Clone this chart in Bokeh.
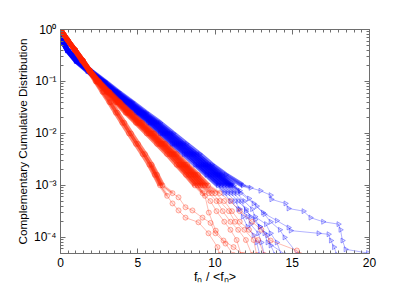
import math
from bokeh.plotting import figure
from bokeh.models import (Range1d, FixedTicker, LinearAxis, LogAxis,
                          CustomJSTickFormatter)
from bokeh.embed import file_html
from bokeh.resources import INLINE

# ---------------- data ----------------
# common CCDF levels for the dense part of every curve
LEVELS = [1.0, 0.63, 0.4, 0.25, 0.16, 0.1, 0.063, 0.04, 0.025, 0.016,
          0.01, 0.0063, 0.004, 0.0025, 0.0016, 0.001]

# blue curves: x position at each level, then the sparse tail
b1_head = [0, 0.1, 0.48, 1.12, 1.98, 2.88, 3.75, 4.65, 5.55, 6.45, 7.3, 8.15, 9.0, 9.8, 10.7, 11.8]
b1_tail_x = [12.3, 12.94, 13.6, 13.65, 14.56, 14.76, 15.73, 16.18, 17.0, 17.99, 18.12, 18.25, 18.45, 19.9]
b1_tail_y = [9.0e-4, 7.9e-4, 6.5e-4, 5.4e-4, 4.5e-4, 3.6e-4, 3.2e-4, 2.4e-4, 2.0e-4, 1.8e-4, 1.4e-4, 8.7e-5, 5.9e-5, 5.0e-5]

b2_head = [0, 0.1, 0.47, 1.1, 1.94, 2.82, 3.67, 4.55, 5.43, 6.3, 7.13, 7.95, 8.8, 9.6, 10.4, 11.2]
b2_tail_x = [11.65, 12.5, 13.1, 14.0, 14.76, 14.9, 16.7, 17.35, 17.5, 17.7, 17.9]
b2_tail_y = [7.1e-4, 4.5e-4, 3.0e-4, 2.1e-4, 1.55e-4, 1.35e-4, 1.2e-4, 1.15e-4, 8.7e-5, 6.5e-5, 4.6e-5]

b3_head = [0, 0.1, 0.46, 1.08, 1.9, 2.77, 3.6, 4.46, 5.32, 6.18, 7.0, 7.82, 8.65, 9.45, 10.25, 11.05]
b3_tail_x = [11.6, 12.2, 12.7, 13.2, 13.6, 14.2, 14.5, 15.4]
b3_tail_y = [7.9e-4, 5.6e-4, 4.0e-4, 2.8e-4, 2.0e-4, 1.4e-4, 1.0e-4, 4.6e-5]

b4_head = [0, 0.1, 0.45, 1.06, 1.87, 2.72, 3.53, 4.38, 5.24, 6.09, 6.9, 7.7, 8.55, 9.35, 10.15, 10.95]
b4_tail_x = [11.4, 11.9, 12.4, 12.6, 13.3, 13.6, 14.0, 14.3]
b4_tail_y = [7.1e-4, 5.0e-4, 3.5e-4, 2.5e-4, 1.8e-4, 1.2e-4, 8.0e-5, 4.6e-5]

b5_head = [0, 0.1, 0.45, 1.04, 1.84, 2.68, 3.47, 4.32, 5.16, 6.0, 6.8, 7.6, 8.43, 9.22, 10.0, 10.8]
b5_tail_x = [11.2, 11.7, 12.0, 12.6, 12.9, 13.4, 13.6, 13.9]
b5_tail_y = [7.1e-4, 5.0e-4, 3.2e-4, 2.2e-4, 1.6e-4, 1.1e-4, 7.0e-5, 4.6e-5]

b6_head = [0, 0.09, 0.44, 1.02, 1.8, 2.63, 3.41, 4.24, 5.07, 5.9, 6.68, 7.47, 8.28, 9.05, 9.82, 10.6]
b6_tail_x = [11.0, 11.5, 12.0, 12.3, 12.9, 13.2, 13.4, 14.6]
b6_tail_y = [7.1e-4, 5.0e-4, 3.5e-4, 2.5e-4, 1.6e-4, 1.2e-4, 8.0e-5, 4.6e-5]

b7_head = [0, 0.09, 0.43, 1.0, 1.77, 2.58, 3.35, 4.16, 4.98, 5.79, 6.56, 7.33, 8.13, 8.9, 9.65, 10.4]
b7_tail_x = [10.8, 11.3, 11.6, 12.1, 12.3, 12.8, 13.0, 13.2]
b7_tail_y = [7.1e-4, 5.0e-4, 3.5e-4, 2.5e-4, 1.8e-4, 1.2e-4, 8.0e-5, 4.6e-5]

b8_head = [0, 0.09, 0.42, 0.98, 1.73, 2.53, 3.28, 4.08, 4.88, 5.68, 6.44, 7.2, 7.98, 8.72, 9.45, 10.2]
b8_tail_x = [10.6, 11.0, 11.5, 11.8, 12.1, 12.5, 12.7, 12.9]
b8_tail_y = [7.1e-4, 5.0e-4, 3.5e-4, 2.5e-4, 1.6e-4, 1.1e-4, 8.0e-5, 4.6e-5]

# red curves (main group)
r1_head = [0, 0.45, 0.95, 1.45, 1.92, 2.5, 3.17, 3.85, 4.57, 5.3, 6.07, 6.8, 7.52, 8.2, 8.9, 9.55]
r1_tail_x = [10.3, 11.0, 11.6, 12.4, 13.0, 13.6, 15.3, 15.5]
r1_tail_y = [7.1e-4, 5.0e-4, 3.2e-4, 2.0e-4, 1.4e-4, 8.7e-5, 5.6e-5, 4.6e-5]

r2_head = [0, 0.45, 0.95, 1.45, 1.91, 2.47, 3.13, 3.8, 4.5, 5.22, 5.98, 6.7, 7.4, 8.07, 8.73, 9.35]
r2_tail_x = [10.0, 10.6, 11.1, 11.6, 12.2, 12.8, 13.2]
r2_tail_y = [7.1e-4, 5.0e-4, 3.2e-4, 2.0e-4, 1.4e-4, 8.9e-5, 4.6e-5]

r3_head = [0, 0.45, 0.95, 1.45, 1.9, 2.45, 3.1, 3.75, 4.45, 5.15, 5.9, 6.6, 7.3, 7.95, 8.6, 9.2]
r3_tail_x = [9.8, 10.3, 10.9, 11.3, 11.9, 12.5, 12.7]
r3_tail_y = [7.1e-4, 5.0e-4, 3.2e-4, 2.0e-4, 1.4e-4, 8.9e-5, 4.6e-5]

r4_head = [0, 0.45, 0.95, 1.44, 1.89, 2.43, 3.07, 3.7, 4.38, 5.07, 5.8, 6.5, 7.18, 7.82, 8.45, 9.05]
r4_tail_x = [9.6, 10.1, 10.5, 11.0, 11.5, 12.0, 12.4]
r4_tail_y = [7.1e-4, 5.0e-4, 3.2e-4, 2.0e-4, 1.4e-4, 8.9e-5, 4.6e-5]

r5_head = [0, 0.45, 0.95, 1.44, 1.88, 2.41, 3.03, 3.65, 4.31, 4.98, 5.7, 6.38, 7.05, 7.68, 8.3, 8.88]
r5_tail_x = [9.35, 9.6, 10.05, 10.55, 11.2, 11.85]
r5_tail_y = [6.3e-4, 3.0e-4, 1.35e-4, 8.7e-5, 6.5e-5, 4.6e-5]

r6_head = [0, 0.45, 0.94, 1.43, 1.87, 2.38, 2.98, 3.58, 4.22, 4.88, 5.58, 6.25, 6.9, 7.52, 8.12, 8.7]
r6_tail_x = [9.2, 9.7, 10.1, 10.6, 11.0, 11.4, 11.7]
r6_tail_y = [7.1e-4, 5.0e-4, 3.2e-4, 2.0e-4, 1.4e-4, 8.9e-5, 4.6e-5]

# red curves (steep group)
s1_head = [0, 0.45, 0.93, 1.4, 1.87, 2.33, 2.8, 3.25, 3.7, 4.13, 4.57, 5.02, 5.47, 5.9, 6.25, 6.6]
s1_tail_x = [7.25, 7.64, 8.09, 8.54, 9.19, 9.71, 10.03, 10.68, 11.2]
s1_tail_y = [7.1e-4, 5.9e-4, 3.8e-4, 3.3e-4, 2.4e-4, 1.9e-4, 1.2e-4, 7.6e-5, 4.6e-5]

s2_head = [0, 0.45, 0.92, 1.38, 1.84, 2.28, 2.72, 3.16, 3.58, 4.0, 4.43, 4.88, 5.32, 5.75, 6.1, 6.45]
s2_tail_x = [6.9, 7.25, 7.64, 8.09, 8.93, 9.58, 10.16, 10.3]
s2_tail_y = [6.3e-4, 4.5e-4, 3.3e-4, 2.4e-4, 1.95e-4, 1.2e-4, 6.5e-5, 4.6e-5]

X_TICKS = [0, 5, 10, 15, 20]
Y_TICKS = [1e-4, 1e-3, 1e-2, 1e-1, 1e0]

BLUE = "#0000ff"
RED = "#ff2200"
AXIS_GRAY = "#6e6e6e"
FONT = "Liberation Sans"

# ---------------- figure ----------------
p = figure(width=407, height=286, y_axis_type="log",
           x_range=Range1d(0, 20), y_range=Range1d(4.9e-5, 1.0),
           output_backend="svg", toolbar_location=None,
           min_border_left=60, min_border_right=38,
           min_border_top=29, min_border_bottom=33)
p.outline_line_color = None
p.xgrid.visible = False
p.ygrid.visible = False
p.background_fill_color = "white"
p.border_fill_color = "white"

x_minor = [i * 0.5 for i in range(41)]
y_minor = [k * 10.0 ** e for e in range(-5, 0) for k in range(1, 10)]
xt = FixedTicker(ticks=X_TICKS, minor_ticks=x_minor)
yt = FixedTicker(ticks=Y_TICKS, minor_ticks=y_minor)

sup_fmt = CustomJSTickFormatter(code="""
const e = Math.round(Math.log10(tick));
const m = {'-':'\u207b','0':'\u2070','1':'\u00b9','2':'\u00b2','3':'\u00b3','4':'\u2074',
           '5':'\u2075','6':'\u2076','7':'\u2077','8':'\u2078','9':'\u2079'};
return '10' + String(e).split('').map(c => m[c]).join('');
""")
blank = CustomJSTickFormatter(code="return '';")


def style_axis(ax):
    ax.axis_line_color = AXIS_GRAY
    ax.major_tick_line_color = AXIS_GRAY
    ax.minor_tick_line_color = AXIS_GRAY
    ax.major_tick_in = 5
    ax.major_tick_out = 0
    ax.minor_tick_in = 3
    ax.minor_tick_out = 0
    ax.major_label_text_font = FONT
    ax.major_label_text_font_size = "12px"
    ax.major_label_text_color = "black"
    ax.axis_label_text_font = FONT
    ax.axis_label_text_font_size = "11.7px"
    ax.axis_label_text_font_style = "normal"
    ax.axis_label_text_color = "black"


xa = p.xaxis[0]
xa.ticker = xt
xa.axis_label = "f\u2099 / <f\u2099>"
style_axis(xa)
xa.axis_label_text_font_size = "12.5px"
xa.axis_label_standoff = 0
xa.major_label_standoff = 4

ya = p.yaxis[0]
ya.ticker = yt
ya.formatter = sup_fmt
ya.axis_label = "Complementary Cumulative Distribution"
style_axis(ya)
ya.axis_label_standoff = 2
ya.major_label_standoff = 4

top = LinearAxis(ticker=xt, formatter=blank)
style_axis(top)
p.add_layout(top, "above")
right = LogAxis(ticker=yt, formatter=blank)
style_axis(right)
p.add_layout(right, "right")


def draw(head, tail_x, tail_y, color, marker, angle):
    xs = head + tail_x
    ys = LEVELS + tail_y
    # the dense part of each distribution reads as a solid band,
    # thinning out where the tail begins
    p.line(head, LEVELS, line_width=5, line_color=color, line_alpha=0.55)
    p.line(head[-3:] + tail_x[:1], LEVELS[-3:] + tail_y[:1],
           line_width=3, line_color=color, line_alpha=0.3)
    p.line(xs, ys, line_width=1, line_color=color, line_alpha=0.3)
    p.scatter(xs, ys, marker=marker, angle=angle, size=5,
              line_color=color, line_alpha=0.35,
              fill_color=color, fill_alpha=0.1)


blue_curves = [(b1_head, b1_tail_x, b1_tail_y), (b2_head, b2_tail_x, b2_tail_y),
               (b3_head, b3_tail_x, b3_tail_y), (b4_head, b4_tail_x, b4_tail_y),
               (b5_head, b5_tail_x, b5_tail_y), (b6_head, b6_tail_x, b6_tail_y),
               (b7_head, b7_tail_x, b7_tail_y), (b8_head, b8_tail_x, b8_tail_y)]
red_curves = [(r1_head, r1_tail_x, r1_tail_y), (r2_head, r2_tail_x, r2_tail_y),
              (r3_head, r3_tail_x, r3_tail_y), (r4_head, r4_tail_x, r4_tail_y),
              (r5_head, r5_tail_x, r5_tail_y), (r6_head, r6_tail_x, r6_tail_y),
              (s1_head, s1_tail_x, s1_tail_y), (s2_head, s2_tail_x, s2_tail_y)]

for h, tx, ty in blue_curves:
    draw(h, tx, ty, BLUE, "triangle", -math.pi / 2)
for h, tx, ty in red_curves:
    draw(h, tx, ty, RED, "circle", 0)

open("out.html", "w").write(file_html(p, INLINE))
